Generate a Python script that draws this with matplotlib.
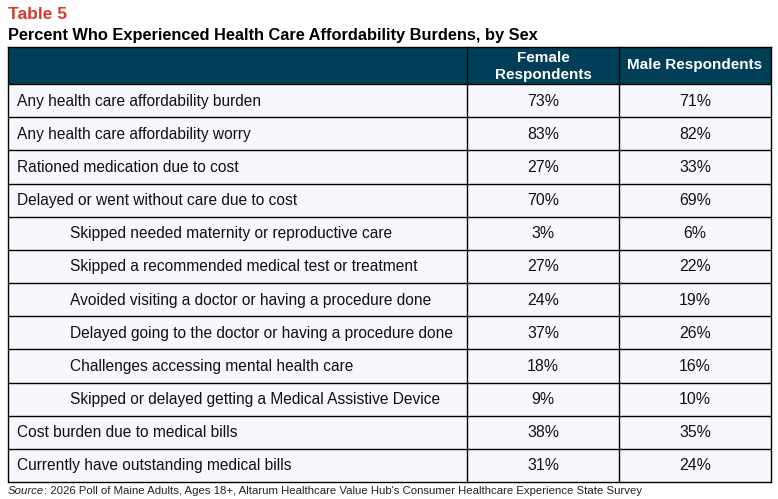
import matplotlib.pyplot as plt
from matplotlib.patches import Rectangle

# table content
title_tag = 'Table 5'
title = 'Percent Who Experienced Health Care Affordability Burdens, by Sex'
col_headers = ['Female\nRespondents', 'Male Respondents']
rows = [
    'Any health care affordability burden',
    'Any health care affordability worry',
    'Rationed medication due to cost',
    'Delayed or went without care due to cost',
    'Skipped needed maternity or reproductive care',
    'Skipped a recommended medical test or treatment',
    'Avoided visiting a doctor or having a procedure done',
    'Delayed going to the doctor or having a procedure done',
    'Challenges accessing mental health care',
    'Skipped or delayed getting a Medical Assistive Device',
    'Cost burden due to medical bills',
    'Currently have outstanding medical bills',
]
indented = [False, False, False, False, True, True, True, True, True, True, False, False]
female = [73, 83, 27, 70, 3, 27, 24, 37, 18, 9, 38, 31]
male = [71, 82, 33, 69, 6, 22, 19, 26, 16, 10, 35, 24]
source_note = ': 2026 Poll of Maine Adults, Ages 18+, Altarum Healthcare Value Hub\'s Consumer Healthcare Experience State Survey'

W, H = 778, 499
fig = plt.figure(figsize=(W / 100, H / 100), dpi=100)
ax = fig.add_axes([0, 0, 1, 1])
ax.set_xlim(0, W)
ax.set_ylim(H, 0)
ax.axis('off')

header_col = '#013f58'
row_col = '#f7f8fd'
font = 'Liberation Sans'

left, right = 8, 771
x1, x2 = 467, 619
top, head_bot = 46.5, 84
row_h = (482 - head_bot) / len(rows)

# header block
ax.add_patch(Rectangle((left, top), right - left, head_bot - top,
                       facecolor=header_col, edgecolor='none'))
# body
bottom = head_bot + row_h * len(rows)
ax.add_patch(Rectangle((left, head_bot), right - left, bottom - head_bot,
                       facecolor=row_col, edgecolor='none'))

lw = 1.0
for i in range(len(rows) + 1):
    y = head_bot + i * row_h
    ax.plot([left, right], [y, y], color='black', lw=lw, solid_capstyle='butt')
ax.plot([left, right], [top, top], color='black', lw=lw)
for x in [left, x1, x2, right]:
    ax.plot([x, x], [top, bottom], color='black', lw=lw, solid_capstyle='projecting')

ax.text(left, 14, title_tag, color='#d9392b', fontsize=12.5, fontweight='bold',
        family=font, va='center', ha='left')
ax.text(left, 35, title, color='black', fontsize=11.8, fontweight='bold',
        family=font, va='center', ha='left')

c1 = (x1 + x2) / 2
c2 = (x2 + right) / 2
hy = (top + head_bot) / 2
ax.text(c1, hy + 1, col_headers[0], color='white', fontsize=11, fontweight='bold',
        family=font, ha='center', va='center', linespacing=1.3)
ax.text(c2, hy, col_headers[1], color='white', fontsize=11, fontweight='bold',
        family=font, ha='center', va='center')

for i, label in enumerate(rows):
    y = head_bot + (i + 0.5) * row_h + 0.5
    tx = 70 if indented[i] else 17
    ax.text(tx, y, label, fontsize=11.2, family=font, ha='left', va='center', color='#111111')
    ax.text(c1, y, f'{female[i]}%', fontsize=11.4, family=font, ha='center', va='center', color='#111111')
    ax.text(c2, y, f'{male[i]}%', fontsize=11.4, family=font, ha='center', va='center', color='#111111')

t = ax.text(8, 491, 'Source', fontsize=8.2, style='italic', family=font,
            ha='left', va='center', color='#222222')
fig.canvas.draw()
bb = t.get_window_extent()
ax.text(8 + bb.width, 491, source_note, fontsize=8.2, family=font,
        ha='left', va='center', color='#222222')

fig.savefig('out.png', dpi=100)
